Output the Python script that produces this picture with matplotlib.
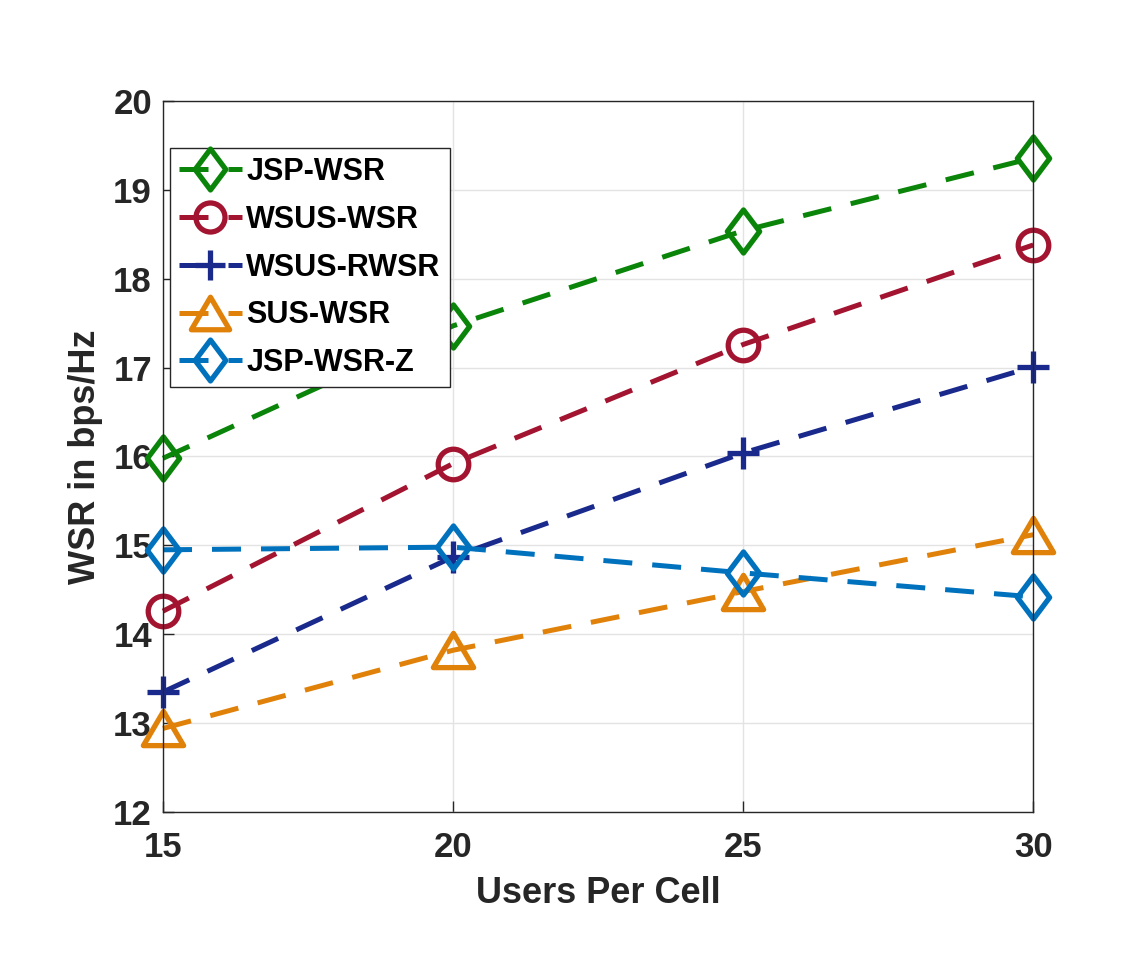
import matplotlib
matplotlib.use("Agg")
import matplotlib.pyplot as plt
from matplotlib.path import Path

plt.rcParams['font.family'] = ['Liberation Sans', 'DejaVu Sans']
plt.rcParams['font.weight'] = 'bold'

users = [15, 20, 25, 30]
jsp_wsr = [15.98, 17.47, 18.54, 19.36]
wsus_wsr = [14.26, 15.92, 17.26, 18.38]
wsus_rwsr = [13.35, 14.87, 16.04, 17.01]
sus_wsr = [12.94, 13.82, 14.48, 15.12]
jsp_wsr_z = [14.95, 14.98, 14.69, 14.42]

labels = ['JSP-WSR', 'WSUS-WSR', 'WSUS-RWSR', 'SUS-WSR', 'JSP-WSR-Z']
colors = ['#0a850a', '#a2142f', '#1a2a8c', '#e0820a', '#0072bd']

diamond = Path([(0, 1), (0.75, 0), (0, -1), (-0.75, 0), (0, 1)],
               [Path.MOVETO, Path.LINETO, Path.LINETO, Path.LINETO, Path.CLOSEPOLY])
triangle = Path([(0, 0.85), (1, -0.85), (-1, -0.85), (0, 0.85)],
                [Path.MOVETO, Path.LINETO, Path.LINETO, Path.CLOSEPOLY])

series = [jsp_wsr, wsus_wsr, wsus_rwsr, sus_wsr, jsp_wsr_z]
markers = [diamond, 'o', '+', triangle, diamond]
msizes = [31, 22, 23, 29, 31]

fig = plt.figure(figsize=(11.28, 9.59), dpi=100)
ax = fig.add_axes([0.1445, 0.1533, 0.7715, 0.7414])

for y, lab, c, m, ms in zip(series, labels, colors, markers, msizes):
    ax.plot(users, y, linestyle='--', dashes=(5.8, 4.0), color=c, lw=3.6,
            marker=m, markersize=ms, markerfacecolor='none',
            markeredgecolor=c, markeredgewidth=3.8, label=lab, clip_on=False)

ax.set_xlim(15, 30)
ax.set_ylim(12, 20)
ax.set_xticks([15, 20, 25, 30])
ax.set_yticks(range(12, 21))
ax.grid(True, color='#e3e3e3', lw=1)
ax.set_axisbelow(True)
ax.tick_params(direction='in', length=8, width=1, colors='#262626',
               labelsize=25)
ax.tick_params(axis='x', pad=14)
ax.tick_params(axis='y', pad=8)
for lab in ax.get_xticklabels() + ax.get_yticklabels():
    lab.set_fontweight('bold')
for s in ax.spines.values():
    s.set_color('#262626')
    s.set_linewidth(1)

ax.set_xlabel('Users Per Cell', fontsize=26, fontweight='bold', color='#262626', labelpad=8)
ax.set_ylabel('WSR in bps/Hz', fontsize=26, fontweight='bold', color='#262626', labelpad=7)

leg = ax.legend(loc='upper left', bbox_to_anchor=(0.008, 0.934), fontsize=22,
                handlelength=2.05, handletextpad=0.15,
                borderpad=0.3, labelspacing=0.58, borderaxespad=0,
                fancybox=False, framealpha=1, edgecolor='#262626',
                markerscale=0.95)
leg.get_frame().set_linewidth(1)
for t in leg.get_texts():
    t.set_fontweight('bold')

fig.savefig('out.png', dpi=100)
